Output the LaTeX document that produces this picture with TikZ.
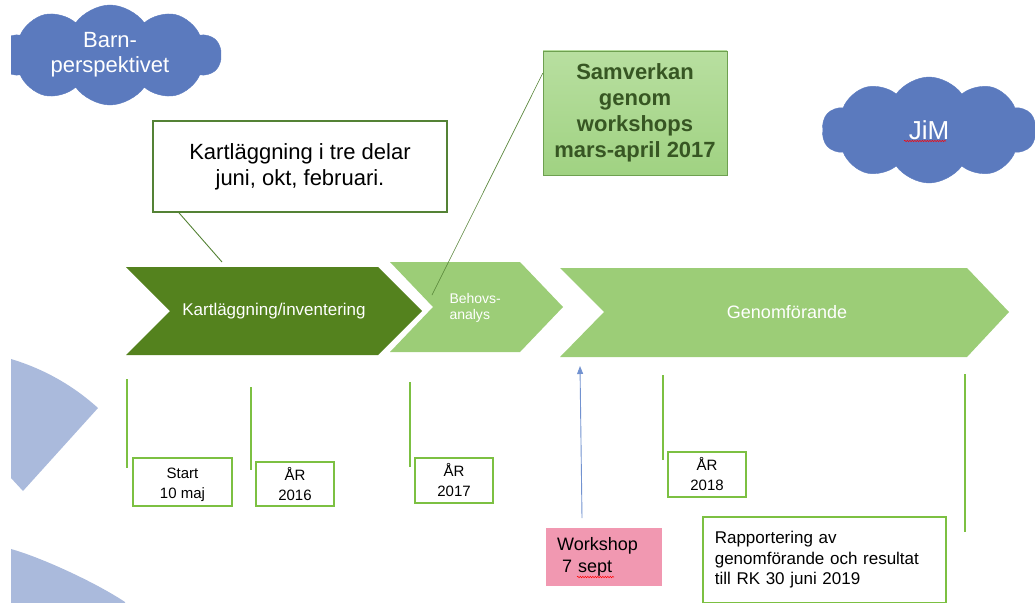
\documentclass[tikz,border=0pt]{standalone}
\usepackage{fontspec}
\setmainfont{Liberation Sans}
\usetikzlibrary{shapes.symbols,arrows.meta,calc,decorations.pathmorphing}

\definecolor{cloudblue}{RGB}{91,122,190}
\definecolor{wedgeblue}{RGB}{170,186,220}
\definecolor{darkchev}{RGB}{84,130,30}
\definecolor{lightchev}{RGB}{156,205,119}
\definecolor{boxgreen}{RGB}{124,192,66}
\definecolor{calloutgreen}{RGB}{84,130,53}
\definecolor{samvtop}{RGB}{184,223,160}
\definecolor{samvbottom}{RGB}{160,210,130}
\definecolor{samvedge}{RGB}{110,160,80}
\definecolor{samvtext}{RGB}{55,86,35}
\definecolor{pinkbox}{RGB}{241,152,177}
\definecolor{arrowblue}{RGB}{114,146,208}

\begin{document}
\begin{tikzpicture}[x=1pt, y=-1pt,
  chevtext/.style={text=white, font=\fontsize{17}{20}\selectfont},
  yearbox/.style={draw=boxgreen, line width=1.6pt, fill=white, minimum width=78pt, minimum height=45pt, inner sep=0pt, align=center, font=\fontsize{15}{20}\selectfont},
  yearline/.style={draw=boxgreen, line width=1.6pt},
  callout/.style={draw=calloutgreen, line width=0.9pt},
  cloudbox/.style={cloud, cloud puffs=10, cloud puff arc=110, cloud ignores aspect, inner sep=0pt, fill=cloudblue, draw=cloudblue, text=white, align=center},
  spell/.style={draw=red, line width=0.5pt, decorate, decoration={snake, amplitude=0.7pt, segment length=2.5pt}}]
  \useasboundingbox (0,0) rectangle (1035,602);
  \clip (11,0) rectangle (1035,602);

  % wedges at the left edge
  \fill[wedgeblue] (11,359) .. controls (43.6,368.8) and (72.8,385.2) .. (98,408) -- (23,491) -- (11,478) -- cycle;
  \fill[wedgeblue] (11,549) .. controls (40,557) and (95,582) .. (125,602) -- (125,610) -- (11,610) -- cycle;

  % clouds
  \node[cloudbox, minimum width=222pt, minimum height=100pt, font=\fontsize{22}{25}\selectfont] (barn) at (110,55) {Barn-\\perspektivet};
  \node[cloudbox, minimum width=214pt, minimum height=106pt, font=\fontsize{26}{28}\selectfont] (jim) at (929,130) {JiM};
  \draw[spell] (904,141) -- (946,141);

  % chevrons
  \fill[darkchev] (126,267) -- (378,267) -- (422,311) -- (378,355) -- (126,355) -- (170,311) -- cycle;
  \fill[lightchev] (390,262) -- (520,262) -- (563,307) -- (520,352) -- (390,352) -- (433,307) -- cycle;
  \fill[lightchev] (560,268) -- (967,268) -- (1009,312) -- (967,357) -- (560,357) -- (604,312) -- cycle;
  \node[chevtext] (kartlabel) at (274,311) {Kartläggning/inventering};
  \node[chevtext, font=\fontsize{14}{16}\selectfont, align=left, anchor=west] (behovlabel) at (446,308) {Behovs-\\analys};
  \node[chevtext, font=\fontsize{18}{20}\selectfont] (genomlabel) at (787,312) {Genomförande};

  % callouts
  \node[draw=calloutgreen, line width=1.4pt, fill=white, minimum width=294pt, minimum height=91pt, align=center, font=\fontsize{22}{26}\selectfont] (kart) at (300,166.5) {Kartläggning i tre delar\\juni, okt, februari.};
  \node[draw=samvedge, top color=samvtop, bottom color=samvbottom, minimum width=184pt, minimum height=124pt, align=center, text=samvtext, font=\bfseries\fontsize{22}{26}\selectfont] (samv) at (635,113) {Samverkan\\genom\\workshops\\mars-april 2017};
  \coordinate (kartfoot) at (222,262);
  \coordinate (samvfoot) at (432,295);
  \draw[callout] ($(kart.south west)!0.09!(kart.south east)$) -- (kartfoot);
  \draw[callout, line width=0.6pt] ($(samv.north west)!0.18!(samv.south west)$) -- (samvfoot);

  % time marks
  \foreach \x/\a/\b in {127/379/468, 251/387/470, 410/382/467, 663/375/460, 965/374/532}
    \draw[yearline] (\x,\a) -- (\x,\b);
  \node[yearbox, minimum width=99pt, minimum height=48pt] (start) at (182.5,482) {\rule{0pt}{16pt}Start\\10 maj};
  \node[yearbox, minimum height=44pt] (y2016) at (295,484) {ÅR\\2016};
  \node[yearbox] (y2017) at (454,480.5) {ÅR\\2017};
  \node[yearbox] (y2018) at (707,474.5) {ÅR\\2018};
  \node[yearbox, anchor=north west, text width=219pt, align=left, inner xsep=12pt, inner ysep=0pt, minimum height=86pt, font=\fontsize{17}{20.5}\selectfont] (report) at (702,516) {Rapportering av\\genomförande och resultat\\till RK 30 juni 2019};

  % workshop
  \node[fill=pinkbox, anchor=north west, minimum width=116pt, minimum height=58pt, text width=94pt, inner xsep=11pt, align=left, font=\fontsize{18}{22}\selectfont] (ws) at (546,528) {Workshop\\\hspace*{5pt}7 sept};
  \draw[spell] (577,577) -- (614,577);
  \coordinate (wsfoot) at (582,518);
  \coordinate (wshead) at (580,366);
  \draw[draw=arrowblue, line width=0.9pt, -{Triangle[length=8pt,width=6pt]}] (wsfoot) -- (wshead);
\end{tikzpicture}
\end{document}
